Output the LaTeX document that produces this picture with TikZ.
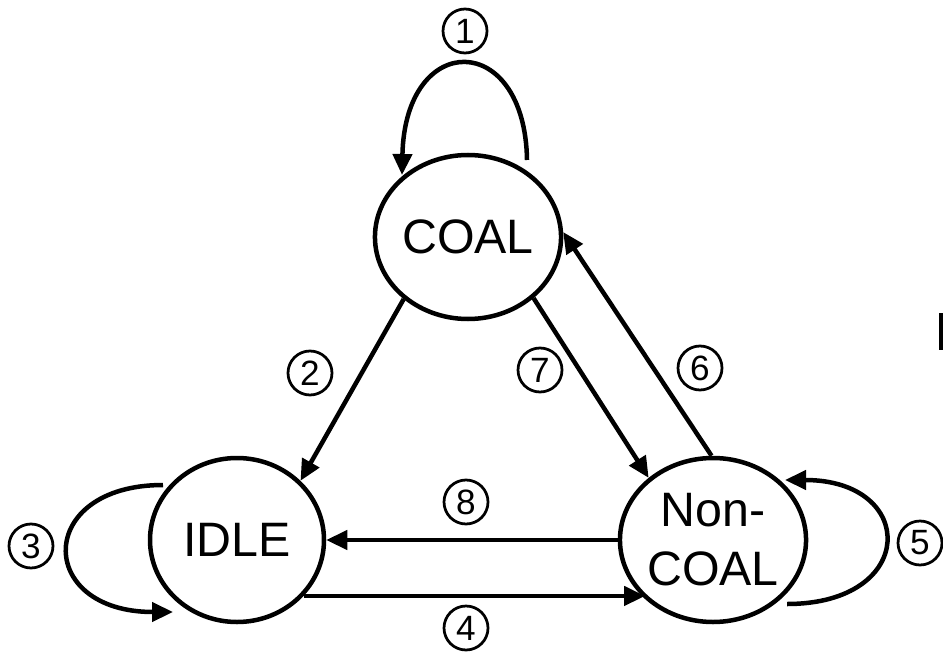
\documentclass[tikz,border=0pt]{standalone}
\usepackage{fontspec}
\setmainfont{Liberation Sans}
\usetikzlibrary{shapes.geometric,arrows.meta}

\begin{document}
\begin{tikzpicture}
  \tikzstyle{state}=[ellipse,draw,line width=0.09cm,inner sep=0pt,minimum width=3.48cm,
                     minimum height=3.28cm,align=center,font=\fontsize{27.5}{33.5}\selectfont]
  \tikzstyle{num}=[circle,draw,line width=0.055cm,inner sep=0pt,minimum size=0.88cm,
                   font=\fontsize{20}{22}\selectfont]
  \tikzstyle{trans}=[line width=0.09cm,-{Triangle[length=0.42cm,width=0.38cm]}]
  \useasboundingbox (0,0) rectangle (18.86,13.1);
  % states
  \node[state] (coal) at (9.36,8.36) {COAL};
  \node[state] (idle) at (4.74,2.30) {IDLE};
  \node[state] (noncoal) at (14.26,2.30) {Non-\\COAL};
  % self loops
  \draw[trans] ([shift={(1.18,1.54)}]coal.center) .. controls +(-0.04,2.6) and +(0.06,2.9)
               .. ([shift={(-1.32,1.24)}]coal.center);
  \draw[trans] ([shift={(-1.48,1.10)}]idle.center) .. controls +(-2.56,0) and +(-2.76,0)
               .. ([shift={(-1.28,-1.44)}]idle.center);
  \draw[trans] ([shift={(1.48,-1.28)}]noncoal.center) .. controls +(2.62,0) and +(2.66,0)
               .. ([shift={(1.44,1.20)}]noncoal.center);
  % transitions between states
  \draw[trans] (coal.224) -- (idle.43);
  \draw[trans] (coal.317) -- (noncoal.136);
  \draw[trans] (noncoal.91) -- (coal.3);
  \draw[trans] (noncoal.180) -- (idle.0);
  \draw[trans] (idle.320) -- (idle.320 -| noncoal.221);
  % transition numbers
  \node[num] (n1) at (9.30,12.48) {1};
  \node[num] (n2) at (6.20,5.64) {2};
  \node[num] (n3) at (0.62,2.18) {3};
  \node[num] (n4) at (9.32,0.54) {4};
  \node[num] (n5) at (18.40,2.24) {5};
  \node[num] (n6) at (14.00,5.74) {6};
  \node[num] (n7) at (10.80,5.70) {7};
  \node[num] (n8) at (9.32,3.06) {8};
  % clipped mark at the right edge
  \fill (18.78,6.10) rectangle (18.86,6.84);
\end{tikzpicture}
\end{document}
